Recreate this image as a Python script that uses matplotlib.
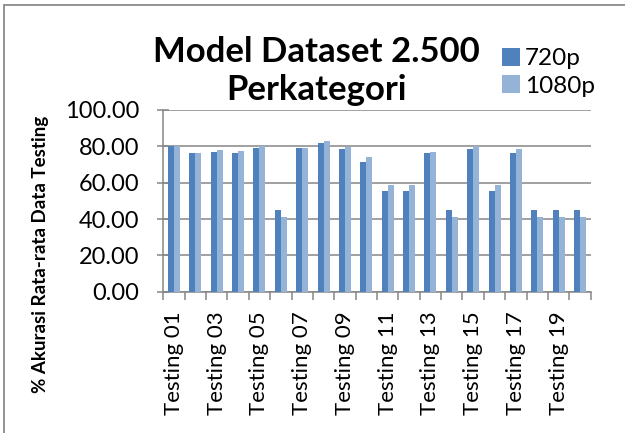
#!/usr/bin/env python3
"""Bar chart: Model Dataset 2.500 Perkategori (720p vs 1080p)."""

import matplotlib
import numpy as np

matplotlib.use("Agg")
import matplotlib.pyplot as plt
from matplotlib.patches import Rectangle


CATEGORIES = [f"Testing {i:02d}" for i in range(1, 21)]
VALUES_720P = [80.0, 76.2, 76.9, 76.5, 79.3, 45.0, 78.9, 81.8, 78.5, 71.6,
               55.2, 55.2, 76.2, 45.0, 78.4, 55.2, 76.3, 45.0, 45.0, 45.0]
VALUES_1080P = [80.4, 76.5, 78.0, 77.4, 80.4, 41.1, 79.3, 82.9, 79.8, 73.9,
                58.7, 58.7, 77.0, 41.0, 80.4, 58.7, 78.6, 41.0, 41.0, 41.0]
SERIES_NAMES = ["720p", "1080p"]
Y_TICKS = [0, 20, 40, 60, 80, 100]

COLOR_720 = "#4F81BD"
COLOR_1080 = "#95B3D7"
GRID = "#868686"
FONT = "Lato"

W, H = 625, 433


def fx(px):
    return px / W


def fy(py):
    return 1 - py / H


def main():
    plt.rcParams["font.family"] = [FONT, "DejaVu Sans"]
    fig = plt.figure(figsize=(W / 100, H / 100), dpi=100)
    ax = fig.add_axes([fx(163.3), fy(291.7), fx(590.7) - fx(163.3), fy(110) - fy(291.7)])

    n = len(CATEGORIES)
    x = np.arange(n) + 0.5
    bw = 0.28
    b1 = ax.bar(x - bw / 2, VALUES_720P, bw, color=COLOR_720, zorder=3)
    b2 = ax.bar(x + bw / 2, VALUES_1080P, bw, color=COLOR_1080, zorder=3)

    ax.set_xlim(0, n)
    ax.set_ylim(0, 100)
    ax.set_yticks(Y_TICKS)
    ax.set_yticklabels([f"{v:.2f}" for v in Y_TICKS], fontsize=17)
    ax.yaxis.grid(True, color=GRID, lw=1.1, zorder=0)

    # labels for odd categories only, ticks at category boundaries
    ax.set_xticks(x[::2])
    ax.set_xticklabels(CATEGORIES[::2], rotation=90, fontsize=16, va="top")
    ax.set_xticks(np.arange(n + 1), minor=True)
    ax.tick_params(axis="x", which="major", length=0, pad=14)
    ax.tick_params(axis="x", which="minor", length=6, width=1.1, color=GRID, direction="out")
    ax.tick_params(axis="y", length=9, width=1.1, color=GRID, direction="inout", pad=13)

    for side in ("top", "right"):
        ax.spines[side].set_visible(False)
    for side in ("left", "bottom"):
        ax.spines[side].set_color(GRID)
        ax.spines[side].set_linewidth(1.1)

    fig.text(fx(316), fy(62), "Model Dataset 2.500", ha="center", va="baseline",
             fontsize=25, fontweight="bold")
    fig.text(fx(316), fy(100), "Perkategori", ha="center", va="baseline",
             fontsize=25, fontweight="bold")

    fig.text(fx(41), fy(254), "% Akurasi Rata-rata Data Testing", rotation=90,
             ha="center", va="center", fontsize=13.5, fontweight="bold")

    fig.legend([b1, b2], SERIES_NAMES, loc="upper left",
               bbox_to_anchor=(fx(492), fy(38)), frameon=False, fontsize=17.5,
               handlelength=0.75, handleheight=0.75, handletextpad=0.2,
               labelspacing=0.25, borderaxespad=0)

    # outer document frame
    fig.patches.append(Rectangle((fx(4), fy(440)), 1.2, fy(5) - fy(440),
                                 transform=fig.transFigure, fill=False,
                                 edgecolor="#808080", lw=1.2))

    fig.savefig("out.png", dpi=100)


if __name__ == "__main__":
    main()
